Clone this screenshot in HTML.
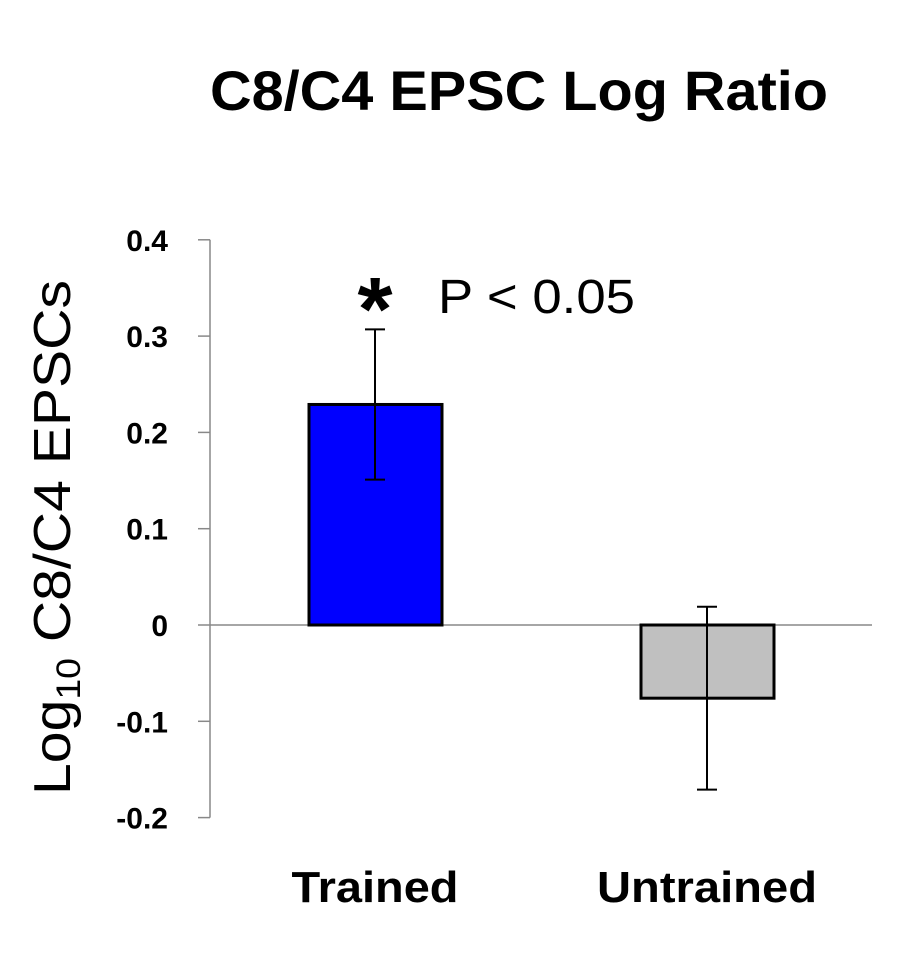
<!DOCTYPE html>
<html><head><meta charset="utf-8"><style>
body{margin:0;background:#fff;width:911px;height:954px;overflow:hidden}
svg text{font-family:"Liberation Sans",sans-serif}
</style></head><body>
<svg width="911" height="954">
<text x="210" y="110" textLength="618" lengthAdjust="spacingAndGlyphs" font-size="56" font-weight="bold">C8/C4 EPSC Log Ratio</text>
<text transform="translate(70,795) rotate(-90)" textLength="515" lengthAdjust="spacingAndGlyphs" font-size="52">Log<tspan font-size="34" dy="10">10</tspan><tspan dy="-10"> C8/C4 EPSCs</tspan></text>
<g id="axes"></g><g id="bars"></g>
<text x="375" y="340" text-anchor="middle" font-size="90" font-weight="bold">*</text>
<text x="438" y="313" textLength="197" lengthAdjust="spacingAndGlyphs" font-size="48">P &lt; 0.05</text>
</svg>
<script>
const categories=["Trained","Untrained"];
const values=[0.229,-0.076];
const errors=[0.078,0.095];
const tickValues=[0.4,0.3,0.2,0.1,0,-0.1,-0.2];
const tickLabels=["0.4","0.3","0.2","0.1","0","-0.1","-0.2"];
const colors=["#0000ff","#c0c0c0"];
const NS="http://www.w3.org/2000/svg";
const y=v=>625-v*963;
const xc=i=>375+i*332;
const labelWidths=[167,220];
function mk(p,t,a){const e=document.createElementNS(NS,t);for(const k in a)e.setAttribute(k,a[k]);p.appendChild(e);return e;}
const ax=document.getElementById('axes'),bg=document.getElementById('bars');
const yl=mk(ax,'line',{x1:210,x2:210,y1:y(0.4),y2:y(-0.2),stroke:'#888','stroke-width':1.5});


tickValues.forEach((v,i)=>{
 const t=mk(ax,'line',{x1:198,x2:210,y1:y(v),y2:y(v),stroke:'#888','stroke-width':1.5});
 
 
 const l=mk(ax,'text',{x:168,y:y(v)+11,'text-anchor':'end','font-size':30,'font-weight':'bold'});
 l.textContent=tickLabels[i];
 
 
});
categories.forEach((c,i)=>{
 const v=values[i],top=Math.min(y(v),y(0)),h=Math.abs(y(v)-y(0));
 const r=mk(bg,'rect',{x:xc(i)-66,y:top,width:133,height:h,fill:colors[i],stroke:'#000','stroke-width':3});
 
 
 const e1=y(v+errors[i]),e2=y(v-errors[i]);
 const eb=mk(bg,'path',{d:`M${xc(i)},${e1}V${e2}M${xc(i)-10},${e1}H${xc(i)+10}M${xc(i)-10},${e2}H${xc(i)+10}`,stroke:'#000','stroke-width':2,fill:'none'});
 
 
 const l=mk(bg,'text',{x:xc(i),y:902,'text-anchor':'middle','font-size':44,'font-weight':'bold',textLength:labelWidths[i],lengthAdjust:'spacingAndGlyphs'});
 l.textContent=c;
 
 
});
const z=mk(ax,'line',{x1:210,x2:872,y1:y(0),y2:y(0),stroke:'#888','stroke-width':1.5});


</script>
</body></html>
